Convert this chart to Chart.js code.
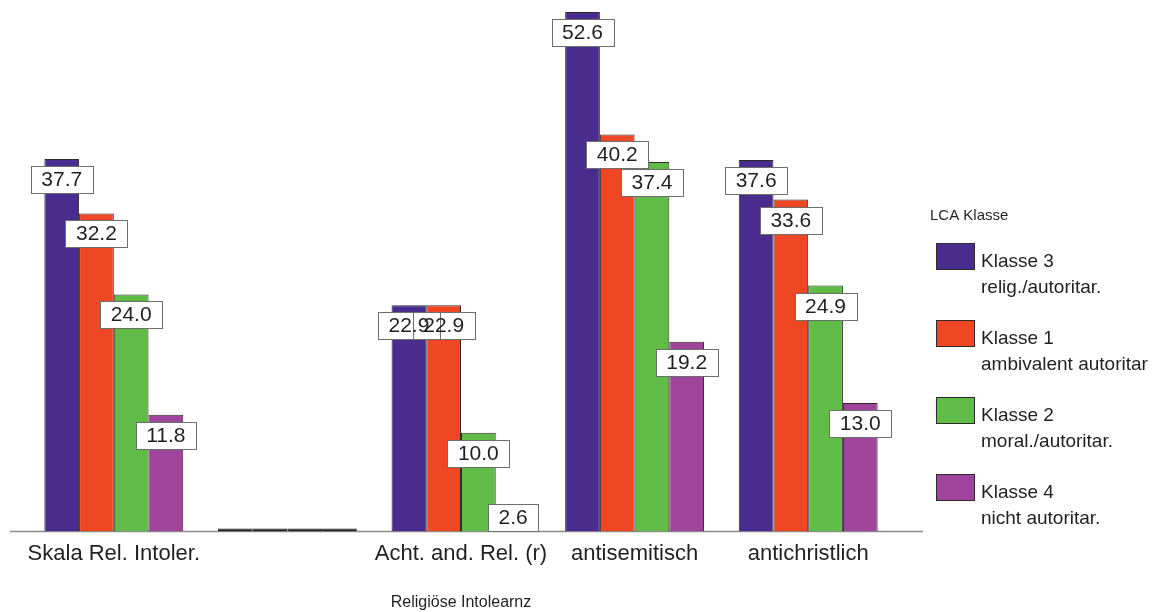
<!DOCTYPE html>
<html>
<head>
<meta charset="utf-8">
<script src="https://cdn.jsdelivr.net/npm/chart.js@4.4.0/dist/chart.umd.min.js"></script>
<style>
  html, body { margin: 0; padding: 0; background: #fff; }
</style>
</head>
<body>
<canvas id="chart" width="1154" height="612"></canvas>
<script>
// Daten
var categories = ["Skala Rel. Intoler.", "", "Acht. and. Rel. (r)", "antisemitisch", "antichristlich"];
var klasse3 = [37.7, 0, 22.9, 52.6, 37.6];
var klasse1 = [32.2, 0, 22.9, 40.2, 33.6];
var klasse2 = [24.0, 0, 10.0, 37.4, 24.9];
var klasse4 = [11.8, 0, 2.6, 19.2, 13.0];
var seriesNames = ["Klasse 3", "Klasse 1", "Klasse 2", "Klasse 4"];
var seriesNotes = ["relig./autoritar.", "ambivalent autoritar", "moral./autoritar.", "nicht autoritar."];
var seriesColors = ["#4a2c8f", "#ef4723", "#60bb47", "#a0449b"];
var legendTitle = "LCA Klasse";
var axisTitle = "Religiöse Intolearnz";

var FONT = "'Liberation Sans', Arial, sans-serif";
var TEXT = "#231f20";

var allValues = [klasse3, klasse1, klasse2, klasse4];

var datasets = allValues.map(function (vals, i) {
  return {
    label: seriesNames[i],
    data: vals,
    backgroundColor: function (ctx) {
      return ctx.raw === 0 ? TEXT : seriesColors[i];
    },
    borderColor: function (ctx) {
      return ctx.raw === 0 ? TEXT : "#2e2a2b";
    },
    borderWidth: 1,
    minBarLength: 3,
    categoryPercentage: 0.8,
    barPercentage: 1.0,
  };
});

// Grundlinie (etwas breiter als die Achse, wie im Original)
var baselinePlugin = {
  id: "baseline",
  beforeDatasetsDraw: function (chart) {
    var ctx = chart.ctx;
    var y = chart.scales.y.getPixelForValue(0);
    ctx.save();
    ctx.strokeStyle = "#8c8c8c";
    ctx.lineWidth = 1.5;
    ctx.beginPath();
    ctx.moveTo(chart.chartArea.left - 17, y);
    ctx.lineTo(chart.chartArea.right + 28, y);
    ctx.stroke();
    ctx.restore();
  },
};

// Wertelabels in Kästchen: erst Flächen, dann Rahmen, dann Text
var boxLabelPlugin = {
  id: "boxLabels",
  afterDatasetsDraw: function (chart) {
    var ctx = chart.ctx;
    var base = chart.scales.y.getPixelForValue(0);
    var boxes = [];
    ctx.save();
    ctx.font = "21px " + FONT;
    chart.data.datasets.forEach(function (ds, di) {
      var meta = chart.getDatasetMeta(di);
      meta.data.forEach(function (bar, j) {
        var v = ds.data[j];
        if (!v) return;
        var txt = v.toFixed(1);
        var w = Math.round(ctx.measureText(txt).width + 21);
        var h = 27;
        var top = Math.round(Math.min(bar.y + 7, base - h));
        var left = Math.round(bar.x - w / 2);
        boxes.push({ txt: txt, x: bar.x, left: left, top: top, w: w, h: h });
      });
    });
    boxes.forEach(function (b) {
      ctx.fillStyle = "#ffffff";
      ctx.fillRect(b.left, b.top, b.w, b.h);
    });
    ctx.strokeStyle = "#6e6e6e";
    ctx.lineWidth = 1;
    boxes.forEach(function (b) {
      ctx.strokeRect(b.left + 0.5, b.top + 0.5, b.w, b.h);
    });
    ctx.textAlign = "center";
    ctx.textBaseline = "middle";
    ctx.fillStyle = TEXT;
    boxes.forEach(function (b) {
      ctx.fillText(b.txt, b.x, b.top + b.h / 2 + 1);
    });
    ctx.restore();
  },
};

// Legende rechts
var legendPlugin = {
  id: "sideLegend",
  afterDraw: function (chart) {
    var ctx = chart.ctx;
    var x0 = chart.chartArea.right;
    ctx.save();
    ctx.textAlign = "left";
    ctx.textBaseline = "middle";
    ctx.fillStyle = TEXT;
    ctx.font = "15px " + FONT;
    ctx.fillText(legendTitle, x0 + 35, 216);
    chart.data.datasets.forEach(function (ds, i) {
      var top = 243 + i * 77;
      ctx.fillStyle = seriesColors[i];
      ctx.fillRect(x0 + 41, top, 38, 26);
      ctx.strokeStyle = "#2e2a2b";
      ctx.lineWidth = 1;
      ctx.strokeRect(x0 + 41.5, top + 0.5, 38, 26);
      ctx.fillStyle = TEXT;
      ctx.font = "19px " + FONT;
      ctx.fillText(seriesNames[i], x0 + 86, top + 19);
      ctx.fillText(seriesNotes[i], x0 + 86, top + 45);
    });
    ctx.restore();
  },
};

new Chart(document.getElementById("chart").getContext("2d"), {
  type: "bar",
  data: {
    labels: categories,
    datasets: datasets,
  },
  options: {
    responsive: false,
    animation: false,
    layout: {
      padding: { left: 27, right: 259, top: 8, bottom: 0 },
    },
    plugins: {
      legend: { display: false },
      tooltip: { enabled: false },
    },
    scales: {
      y: {
        display: false,
        min: 0,
        max: 53,
      },
      x: {
        grid: { display: false, drawTicks: false },
        border: { display: false },
        ticks: {
          autoSkip: false,
          maxRotation: 0,
          padding: 9,
          color: TEXT,
          font: { family: FONT, size: 22 },
        },
        title: {
          display: true,
          text: axisTitle,
          color: TEXT,
          font: { family: FONT, size: 16 },
          padding: { top: 17, bottom: 0 },
        },
      },
    },
  },
  plugins: [baselinePlugin, boxLabelPlugin, legendPlugin],
});
</script>
</body>
</html>
